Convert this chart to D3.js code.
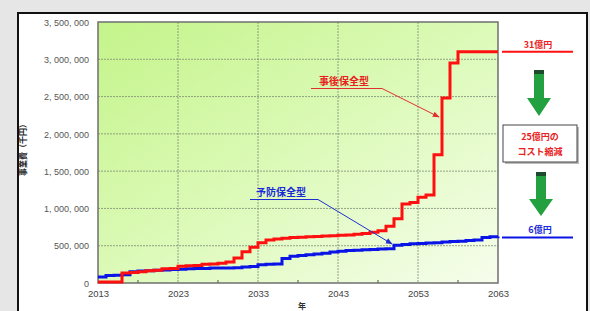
<!DOCTYPE html>
<html>
<head>
<meta charset="utf-8">
<script src="https://cdn.jsdelivr.net/npm/d3@7"></script>
<style>
  html, body { margin: 0; padding: 0; background: #e6e6e6; }
  svg { display: block; }
  text { font-family: "Liberation Sans", Arial, sans-serif; }
  .jp { font-family: "Noto Sans CJK JP", sans-serif; font-weight: bold; }
</style>
</head>
<body>
<svg id="chart" width="590" height="311"></svg>
<script>
// years, one value per year (thousand yen)
const years = d3.range(2013, 2064);

const correctiveCost = [
  15000, 15000, 15000, 135000, 140000, 150000, 165000, 170000, 190000, 195000,
  225000, 230000, 235000, 250000, 255000, 265000, 280000, 335000, 420000, 480000,
  540000, 575000, 590000, 600000, 610000, 615000, 620000, 625000, 630000, 635000,
  640000, 645000, 655000, 665000, 680000, 700000, 760000, 860000, 1060000, 1080000,
  1150000, 1180000, 1720000, 2480000, 2950000, 3100000, 3100000, 3100000, 3100000, 3100000,
  3100000
];

const preventiveCost = [
  80000, 100000, 105000, 110000, 150000, 160000, 165000, 170000, 175000, 180000,
  185000, 190000, 195000, 195000, 200000, 200000, 200000, 205000, 215000, 220000,
  245000, 250000, 255000, 330000, 360000, 370000, 380000, 390000, 400000, 415000,
  425000, 435000, 440000, 445000, 450000, 455000, 460000, 505000, 515000, 525000,
  530000, 535000, 540000, 550000, 555000, 560000, 570000, 575000, 610000, 620000,
  625000
];

const yTicks = [0, 500000, 1000000, 1500000, 2000000, 2500000, 3000000, 3500000];
const xTicks = [2013, 2023, 2033, 2043, 2053, 2063];
const xMinorTicks = [2018, 2028, 2038, 2048, 2058];

const seriesNames = ["事後保全型", "予防保全型"];
const endLabels = ["31億円", "6億円"];
const reductionLabel = ["25億円の", "コスト縮減"];

const svg = d3.select("#chart");

const plot = { left: 98, right: 498, top: 22, bottom: 283 };

const x = d3.scaleLinear().domain([2013, 2063]).range([plot.left, plot.right]);
const y = d3.scaleLinear().domain([0, 3500000]).range([plot.bottom, plot.top]);

// white panel
svg.append("rect")
  .attr("x", 18).attr("y", 13)
  .attr("width", 569).attr("height", 310)
  .attr("fill", "#fff")
  .attr("stroke", "#111")
  .attr("stroke-width", 2);

// green gradient background
const defs = svg.append("defs");
const grad = defs.append("linearGradient")
  .attr("id", "bg")
  .attr("x1", "0").attr("y1", "0")
  .attr("x2", "1").attr("y2", "1");
grad.append("stop").attr("offset", "0%").attr("stop-color", "#c4f48a");
grad.append("stop").attr("offset", "50%").attr("stop-color", "#dcfab8");
grad.append("stop").attr("offset", "100%").attr("stop-color", "#f6fdec");

const arrowDefs = [["arrRed", "#e03030"], ["arrBlue", "#2030d0"]];
arrowDefs.forEach(([id, c]) => {
  defs.append("marker")
    .attr("id", id)
    .attr("viewBox", "0 0 10 10")
    .attr("refX", 9).attr("refY", 5)
    .attr("markerWidth", 7).attr("markerHeight", 7)
    .attr("orient", "auto")
    .append("path")
    .attr("d", "M0,1 L10,5 L0,9 Z")
    .attr("fill", c);
});

svg.append("rect")
  .attr("x", plot.left).attr("y", plot.top)
  .attr("width", plot.right - plot.left)
  .attr("height", plot.bottom - plot.top)
  .attr("fill", "url(#bg)");

// grid lines
svg.append("g")
  .selectAll("line")
  .data(yTicks.slice(1, -1))
  .join("line")
  .attr("x1", plot.left).attr("x2", plot.right)
  .attr("y1", d => y(d)).attr("y2", d => y(d))
  .attr("stroke", "#7d8c74")
  .attr("stroke-width", 0.8)
  .attr("stroke-dasharray", "2,1");

svg.append("g")
  .selectAll("line")
  .data(xTicks.slice(1, -1))
  .join("line")
  .attr("x1", d => x(d)).attr("x2", d => x(d))
  .attr("y1", plot.top).attr("y2", plot.bottom)
  .attr("stroke", "#7d8c74")
  .attr("stroke-width", 0.8)
  .attr("stroke-dasharray", "2,1");

// minor ticks on the x axis
svg.append("g")
  .selectAll("line")
  .data(xMinorTicks)
  .join("line")
  .attr("x1", d => x(d)).attr("x2", d => x(d))
  .attr("y1", plot.bottom).attr("y2", plot.bottom - 3)
  .attr("stroke", "#555");

// axes (labels only, no domain line)
const fmt = d => d3.format(",")(d).replace(/,/g, ", ");

const yAxis = svg.append("g")
  .attr("transform", `translate(${plot.left - 9},0)`)
  .call(d3.axisLeft(y).tickValues(yTicks).tickFormat(fmt).tickSize(0).tickPadding(0));
yAxis.select(".domain").remove();
yAxis.selectAll("text")
  .attr("fill", "#555")
  .attr("font-size", "9px")
  .attr("dy", "0.35em");

const xAxis = svg.append("g")
  .attr("transform", `translate(0,${plot.bottom + 7})`)
  .call(d3.axisBottom(x).tickValues(xTicks).tickFormat(d3.format("d")).tickSize(0).tickPadding(0));
xAxis.select(".domain").remove();
xAxis.selectAll("text")
  .attr("fill", "#444")
  .attr("font-size", "9.5px");

// plot frame
svg.append("rect")
  .attr("x", plot.left).attr("y", plot.top)
  .attr("width", plot.right - plot.left)
  .attr("height", plot.bottom - plot.top)
  .attr("fill", "none")
  .attr("stroke", "#6f6f6f")
  .attr("stroke-width", 1.5);

// series lines
const line = d3.line()
  .x((d, i) => x(years[i]))
  .y(d => y(d))
  .curve(d3.curveStepAfter);

svg.append("path")
  .datum(preventiveCost)
  .attr("d", line)
  .attr("fill", "none")
  .attr("stroke", "#0a14e6")
  .attr("stroke-width", 3);

svg.append("path")
  .datum(correctiveCost)
  .attr("d", line)
  .attr("fill", "none")
  .attr("stroke", "#ff1010")
  .attr("stroke-width", 3);

// axis titles
svg.append("text")
  .attr("class", "jp")
  .attr("transform", "translate(26,148) rotate(-90)")
  .attr("text-anchor", "middle")
  .attr("font-size", "8px")
  .attr("fill", "#222")
  .text("事業費（千円）");

svg.append("text")
  .attr("class", "jp")
  .attr("x", 302).attr("y", 309)
  .attr("text-anchor", "middle")
  .attr("font-size", "8px")
  .attr("fill", "#333")
  .text("年");

// series callouts
svg.append("text")
  .attr("class", "jp")
  .attr("x", 344).attr("y", 85)
  .attr("text-anchor", "middle")
  .attr("font-size", "10px")
  .attr("fill", "#e82020")
  .text(seriesNames[0]);
svg.append("path")
  .attr("d", "M311,88.5 L382,88.5 L439,117")
  .attr("fill", "none")
  .attr("stroke", "#e03030")
  .attr("stroke-width", 1)
  .attr("marker-end", "url(#arrRed)");

svg.append("text")
  .attr("class", "jp")
  .attr("x", 281).attr("y", 196)
  .attr("text-anchor", "middle")
  .attr("font-size", "10px")
  .attr("fill", "#1a2ad8")
  .text(seriesNames[1]);
svg.append("path")
  .attr("d", "M250,199.5 L318,199.5 L392,244")
  .attr("fill", "none")
  .attr("stroke", "#2030d0")
  .attr("stroke-width", 1)
  .attr("marker-end", "url(#arrBlue)");

// right-side annotation
const lastIdx = years.length - 1;
svg.append("line")
  .attr("x1", 502).attr("x2", 573)
  .attr("y1", y(correctiveCost[lastIdx])).attr("y2", y(correctiveCost[lastIdx]))
  .attr("stroke", "#ff1010").attr("stroke-width", 2);
svg.append("text")
  .attr("class", "jp")
  .attr("x", 538).attr("y", 48)
  .attr("text-anchor", "middle")
  .attr("font-size", "9px")
  .attr("font-weight", "normal")
  .attr("fill", "#e82020")
  .text(endLabels[0]);

svg.append("line")
  .attr("x1", 502).attr("x2", 573)
  .attr("y1", y(preventiveCost[lastIdx]) + 1).attr("y2", y(preventiveCost[lastIdx]) + 1)
  .attr("stroke", "#0a14e6").attr("stroke-width", 2);
svg.append("text")
  .attr("class", "jp")
  .attr("x", 540).attr("y", 233)
  .attr("text-anchor", "middle")
  .attr("font-size", "9px")
  .attr("font-weight", "normal")
  .attr("fill", "#1a2ad8")
  .text(endLabels[1]);

function greenArrow(cx, top, headStart, tip) {
  const g = svg.append("g");
  g.append("path")
    .attr("d", `M${cx - 5},${top} L${cx + 5},${top} L${cx + 5},${headStart} L${cx + 12},${headStart}
                L${cx},${tip} L${cx - 12},${headStart} L${cx - 5},${headStart} Z`)
    .attr("fill", "#23a040");
  g.append("rect")
    .attr("x", cx - 5).attr("y", top)
    .attr("width", 10).attr("height", 4)
    .attr("fill", "#1d4a2a");
}
greenArrow(539, 70, 98, 116);
greenArrow(541, 172, 199, 216);

svg.append("rect")
  .attr("x", 505).attr("y", 127)
  .attr("width", 74).attr("height", 37)
  .attr("fill", "#bbb");
svg.append("rect")
  .attr("x", 503).attr("y", 125)
  .attr("width", 74).attr("height", 37)
  .attr("fill", "#fff")
  .attr("stroke", "#444")
  .attr("stroke-width", 1);
svg.append("g")
  .selectAll("text")
  .data(reductionLabel)
  .join("text")
  .attr("class", "jp")
  .attr("x", 540)
  .attr("y", (d, i) => 140 + i * 15)
  .attr("text-anchor", "middle")
  .attr("font-size", "9px")
  .attr("fill", "#e82020")
  .text(d => d);
</script>
</body>
</html>
